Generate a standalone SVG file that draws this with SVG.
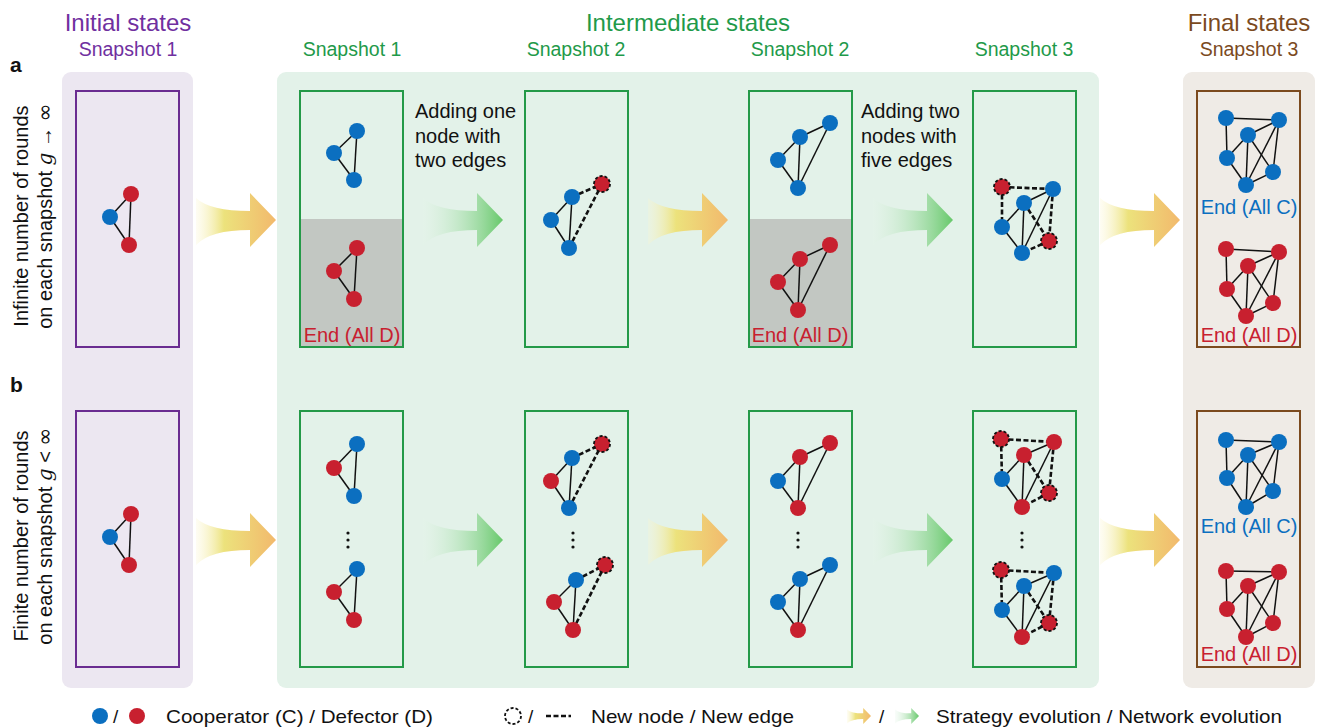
<svg xmlns="http://www.w3.org/2000/svg" xmlns:xlink="http://www.w3.org/1999/xlink" width="1326" height="728" viewBox="0 0 1326 728">
<style>
text{font-family:"Liberation Sans",Arial,sans-serif}
.e{stroke:#111;stroke-width:1.5}
.d{stroke:#111;stroke-width:2.6;stroke-dasharray:5 2.5}
.c{fill:#0b6fc0}
.r{fill:#c8202f}
.n{fill:#c8202f;stroke:#111;stroke-width:1.8;stroke-dasharray:3 2}
.dot{fill:#111}
.pbox{fill:none;stroke:#6a2c91;stroke-width:2}
.gbox{fill:none;stroke:#249a48;stroke-width:2}
.bbox{fill:none;stroke:#7b4a1e;stroke-width:2}
.ttl{font-size:24px;text-anchor:middle}
.snap{font-size:19.5px;text-anchor:middle}
.lab{font-size:20px;fill:#111}
.endD{font-size:20px;fill:#c8202f;text-anchor:middle}
.endC{font-size:20px;fill:#0b6fc0;text-anchor:middle}
.side{font-size:20px;fill:#111;text-anchor:middle}
.leg{font-size:19px;fill:#111}
.inf{font-family:"DejaVu Sans",sans-serif;font-size:22px}
</style>
<defs>
<linearGradient id="gy" x1="0" y1="0" x2="1" y2="0">
<stop offset="0" stop-color="#fbf6d0" stop-opacity="0.25"/>
<stop offset="0.35" stop-color="#ece27c"/>
<stop offset="1" stop-color="#f2b96c"/>
</linearGradient>
<linearGradient id="gg" x1="0" y1="0" x2="1" y2="0">
<stop offset="0" stop-color="#e6f5ea" stop-opacity="0.25"/>
<stop offset="1" stop-color="#66c86a"/>
</linearGradient>
<path id="arr" d="M-80,-22 Q-66,-9 -26,-9 L-26,-27 L0,0 L-26,27 L-26,10 Q-66,10 -80,25 Z"/>
</defs>

<!-- panels -->
<g id="panel-initial">
<rect x="62" y="72" width="131" height="616" rx="9" fill="#ece7f1"/>
<text class="ttl" x="128" y="31" fill="#7030a0">Initial states</text>
<text class="snap" x="128" y="56" fill="#7030a0">Snapshot 1</text>
</g>
<g id="panel-intermediate">
<rect x="277" y="72" width="822" height="616" rx="9" fill="#e3f2e9"/>
<text class="ttl" x="688" y="31" fill="#1f9a4a">Intermediate states</text>
<text class="snap" x="352" y="56" fill="#1f9a4a">Snapshot 1</text>
<text class="snap" x="576" y="56" fill="#1f9a4a">Snapshot 2</text>
<text class="snap" x="800" y="56" fill="#1f9a4a">Snapshot 2</text>
<text class="snap" x="1024" y="56" fill="#1f9a4a">Snapshot 3</text>
</g>
<g id="panel-final">
<rect x="1183" y="72" width="132" height="616" rx="9" fill="#efebe6"/>
<text class="ttl" x="1249" y="31" fill="#7b4a1e">Final states</text>
<text class="snap" x="1249" y="56" fill="#7b4a1e">Snapshot 3</text>
</g>

<!-- side labels -->
<g id="labels">
<text x="10" y="72" font-size="21" font-weight="bold" fill="#111">a</text>
<text x="10" y="392" font-size="21" font-weight="bold" fill="#111">b</text>
<text class="side" transform="translate(28,216) rotate(-90)">Infinite number of rounds</text>
<text class="side" transform="translate(52,216) rotate(-90)">on each snapshot <tspan font-family="DejaVu Serif,serif" font-style="italic">g</tspan> → <tspan class="inf">∞</tspan></text>
<text class="side" transform="translate(28,536) rotate(-90)">Finite number of rounds</text>
<text class="side" transform="translate(52,536) rotate(-90)">on each snapshot <tspan font-family="DejaVu Serif,serif" font-style="italic">g</tspan> &lt; <tspan class="inf">∞</tspan></text>
</g>

<!-- Row a -->
<g id="a-initial">
<rect class="pbox" x="76" y="91" width="103" height="256"/>
<line class="e" x1="110" y1="217" x2="131" y2="194"/><line class="e" x1="110" y1="217" x2="129" y2="245"/><line class="e" x1="131" y1="194" x2="129" y2="245"/>
<circle class="c" cx="110" cy="217" r="8"/><circle class="r" cx="131" cy="194" r="8"/><circle class="r" cx="129" cy="245" r="8"/>
</g>
<g id="a-snap1">
<rect x="300" y="219" width="103" height="128" fill="#c2c7c2"/>
<rect class="gbox" x="300" y="91" width="103" height="256"/>
<line class="e" x1="357" y1="131" x2="334" y2="153"/><line class="e" x1="334" y1="153" x2="354" y2="180"/><line class="e" x1="357" y1="131" x2="354" y2="180"/>
<circle class="c" cx="357" cy="131" r="8"/><circle class="c" cx="334" cy="153" r="8"/><circle class="c" cx="354" cy="180" r="8"/>
<line class="e" x1="357" y1="248" x2="334" y2="271"/><line class="e" x1="334" y1="271" x2="354" y2="299"/><line class="e" x1="357" y1="248" x2="354" y2="299"/>
<circle class="r" cx="357" cy="248" r="8"/><circle class="r" cx="334" cy="271" r="8"/><circle class="r" cx="354" cy="299" r="8"/>
<text class="endD" x="352" y="342">End (All D)</text>
</g>
<g id="a-text1">
<text class="lab" x="415" y="118">Adding one</text>
<text class="lab" x="415" y="143">node with</text>
<text class="lab" x="415" y="167">two edges</text>
</g>
<g id="a-snap2">
<rect class="gbox" x="525" y="91" width="103" height="256"/>
<line class="e" x1="572" y1="197" x2="551" y2="220"/><line class="e" x1="551" y1="220" x2="569" y2="248"/><line class="e" x1="572" y1="197" x2="569" y2="248"/>
<line class="d" x1="572" y1="197" x2="602" y2="184"/><line class="d" x1="569" y1="248" x2="602" y2="184"/>
<circle class="c" cx="572" cy="197" r="8"/><circle class="c" cx="551" cy="220" r="8"/><circle class="c" cx="569" cy="248" r="8"/><circle class="n" cx="602" cy="184" r="8"/>
</g>
<g id="a-snap2b">
<rect x="749" y="219" width="103" height="128" fill="#c2c7c2"/>
<rect class="gbox" x="749" y="91" width="103" height="256"/>
<line class="e" x1="830" y1="123" x2="800" y2="137"/><line class="e" x1="800" y1="137" x2="778" y2="160"/><line class="e" x1="778" y1="160" x2="798" y2="188"/><line class="e" x1="800" y1="137" x2="798" y2="188"/><line class="e" x1="830" y1="123" x2="798" y2="188"/>
<circle class="c" cx="830" cy="123" r="8"/><circle class="c" cx="800" cy="137" r="8"/><circle class="c" cx="778" cy="160" r="8"/><circle class="c" cx="798" cy="188" r="8"/>
<line class="e" x1="830" y1="245" x2="800" y2="259"/><line class="e" x1="800" y1="259" x2="778" y2="282"/><line class="e" x1="778" y1="282" x2="798" y2="310"/><line class="e" x1="800" y1="259" x2="798" y2="310"/><line class="e" x1="830" y1="245" x2="798" y2="310"/>
<circle class="r" cx="830" cy="245" r="8"/><circle class="r" cx="800" cy="259" r="8"/><circle class="r" cx="778" cy="282" r="8"/><circle class="r" cx="798" cy="310" r="8"/>
<text class="endD" x="800" y="342">End (All D)</text>
</g>
<g id="a-text2">
<text class="lab" x="861" y="118">Adding two</text>
<text class="lab" x="861" y="143">nodes with</text>
<text class="lab" x="861" y="167">five edges</text>
</g>
<g id="a-snap3">
<rect class="gbox" x="973" y="91" width="103" height="256"/>
<line class="e" x1="1053" y1="189" x2="1024" y2="203"/><line class="e" x1="1024" y1="203" x2="1002" y2="227"/><line class="e" x1="1002" y1="227" x2="1022" y2="253"/><line class="e" x1="1024" y1="203" x2="1022" y2="253"/><line class="e" x1="1053" y1="189" x2="1022" y2="253"/>
<line class="d" x1="1002" y1="187" x2="1053" y2="189"/><line class="d" x1="1002" y1="187" x2="1002" y2="227"/><line class="d" x1="1053" y1="189" x2="1049" y2="241"/><line class="d" x1="1049" y1="241" x2="1022" y2="253"/><line class="d" x1="1024" y1="203" x2="1049" y2="241"/>
<circle class="n" cx="1002" cy="187" r="8"/><circle class="c" cx="1053" cy="189" r="8"/><circle class="c" cx="1024" cy="203" r="8"/><circle class="c" cx="1002" cy="227" r="8"/><circle class="n" cx="1049" cy="241" r="8"/><circle class="c" cx="1022" cy="253" r="8"/>
</g>
<g id="a-final">
<rect class="bbox" x="1197" y="91" width="103" height="256"/>
<g class="e">
<line x1="1226" y1="118" x2="1279" y2="120"/><line x1="1226" y1="118" x2="1227" y2="158"/><line x1="1279" y1="120" x2="1248" y2="135"/><line x1="1248" y1="135" x2="1227" y2="158"/><line x1="1227" y1="158" x2="1246" y2="185"/><line x1="1248" y1="135" x2="1246" y2="185"/><line x1="1279" y1="120" x2="1246" y2="185"/><line x1="1248" y1="135" x2="1273" y2="172"/><line x1="1279" y1="120" x2="1273" y2="172"/><line x1="1273" y1="172" x2="1246" y2="185"/>
</g>
<circle class="c" cx="1226" cy="118" r="8"/><circle class="c" cx="1279" cy="120" r="8"/><circle class="c" cx="1248" cy="135" r="8"/><circle class="c" cx="1227" cy="158" r="8"/><circle class="c" cx="1273" cy="172" r="8"/><circle class="c" cx="1246" cy="185" r="8"/>
<text class="endC" x="1249" y="214">End (All C)</text>
<g class="e">
<line x1="1226" y1="249" x2="1279" y2="252"/><line x1="1226" y1="249" x2="1227" y2="289"/><line x1="1279" y1="252" x2="1248" y2="266"/><line x1="1248" y1="266" x2="1227" y2="289"/><line x1="1227" y1="289" x2="1246" y2="316"/><line x1="1248" y1="266" x2="1246" y2="316"/><line x1="1279" y1="252" x2="1246" y2="316"/><line x1="1248" y1="266" x2="1273" y2="303"/><line x1="1279" y1="252" x2="1273" y2="303"/><line x1="1273" y1="303" x2="1246" y2="316"/>
</g>
<circle class="r" cx="1226" cy="249" r="8"/><circle class="r" cx="1279" cy="252" r="8"/><circle class="r" cx="1248" cy="266" r="8"/><circle class="r" cx="1227" cy="289" r="8"/><circle class="r" cx="1273" cy="303" r="8"/><circle class="r" cx="1246" cy="316" r="8"/>
<text class="endD" x="1249" y="342">End (All D)</text>
</g>

<!-- Row b -->
<g id="b-initial">
<rect class="pbox" x="76" y="411" width="103" height="256"/>
<line class="e" x1="110" y1="537" x2="131" y2="514"/><line class="e" x1="110" y1="537" x2="129" y2="565"/><line class="e" x1="131" y1="514" x2="129" y2="565"/>
<circle class="c" cx="110" cy="537" r="8"/><circle class="r" cx="131" cy="514" r="8"/><circle class="r" cx="129" cy="565" r="8"/>
</g>
<g id="b-snap1">
<rect class="gbox" x="300" y="411" width="103" height="256"/>
<line class="e" x1="357" y1="444" x2="334" y2="468"/><line class="e" x1="334" y1="468" x2="354" y2="496"/><line class="e" x1="357" y1="444" x2="354" y2="496"/>
<circle class="c" cx="357" cy="444" r="8"/><circle class="r" cx="334" cy="468" r="8"/><circle class="c" cx="354" cy="496" r="8"/>
<circle class="dot" cx="348" cy="533" r="1.6"/><circle class="dot" cx="348" cy="540" r="1.6"/><circle class="dot" cx="348" cy="547" r="1.6"/>
<line class="e" x1="357" y1="569" x2="334" y2="592"/><line class="e" x1="334" y1="592" x2="354" y2="620"/><line class="e" x1="357" y1="569" x2="354" y2="620"/>
<circle class="c" cx="357" cy="569" r="8"/><circle class="r" cx="334" cy="592" r="8"/><circle class="r" cx="354" cy="620" r="8"/>
</g>
<g id="b-snap2">
<rect class="gbox" x="525" y="411" width="103" height="256"/>
<line class="e" x1="572" y1="458" x2="551" y2="481"/><line class="e" x1="551" y1="481" x2="569" y2="508"/><line class="e" x1="572" y1="458" x2="569" y2="508"/>
<line class="d" x1="572" y1="458" x2="602" y2="444"/><line class="d" x1="569" y1="508" x2="602" y2="444"/>
<circle class="c" cx="572" cy="458" r="8"/><circle class="r" cx="551" cy="481" r="8"/><circle class="c" cx="569" cy="508" r="8"/><circle class="n" cx="602" cy="444" r="8"/>
<circle class="dot" cx="573" cy="533" r="1.6"/><circle class="dot" cx="573" cy="540" r="1.6"/><circle class="dot" cx="573" cy="547" r="1.6"/>
<line class="e" x1="576" y1="580" x2="554" y2="602"/><line class="e" x1="554" y1="602" x2="573" y2="630"/><line class="e" x1="576" y1="580" x2="573" y2="630"/>
<line class="d" x1="576" y1="580" x2="605" y2="565"/><line class="d" x1="573" y1="630" x2="605" y2="565"/>
<circle class="c" cx="576" cy="580" r="8"/><circle class="r" cx="554" cy="602" r="8"/><circle class="r" cx="573" cy="630" r="8"/><circle class="n" cx="605" cy="565" r="8"/>
</g>
<g id="b-snap2b">
<rect class="gbox" x="749" y="411" width="103" height="256"/>
<line class="e" x1="830" y1="443" x2="800" y2="457"/><line class="e" x1="800" y1="457" x2="778" y2="481"/><line class="e" x1="778" y1="481" x2="798" y2="508"/><line class="e" x1="800" y1="457" x2="798" y2="508"/><line class="e" x1="830" y1="443" x2="798" y2="508"/>
<circle class="r" cx="830" cy="443" r="8"/><circle class="r" cx="800" cy="457" r="8"/><circle class="c" cx="778" cy="481" r="8"/><circle class="r" cx="798" cy="508" r="8"/>
<circle class="dot" cx="798" cy="533" r="1.6"/><circle class="dot" cx="798" cy="540" r="1.6"/><circle class="dot" cx="798" cy="547" r="1.6"/>
<line class="e" x1="830" y1="565" x2="800" y2="579"/><line class="e" x1="800" y1="579" x2="778" y2="602"/><line class="e" x1="778" y1="602" x2="798" y2="630"/><line class="e" x1="800" y1="579" x2="798" y2="630"/><line class="e" x1="830" y1="565" x2="798" y2="630"/>
<circle class="c" cx="830" cy="565" r="8"/><circle class="c" cx="800" cy="579" r="8"/><circle class="c" cx="778" cy="602" r="8"/><circle class="r" cx="798" cy="630" r="8"/>
</g>
<g id="b-snap3">
<rect class="gbox" x="973" y="411" width="103" height="256"/>
<line class="e" x1="1054" y1="442" x2="1024" y2="455"/><line class="e" x1="1024" y1="455" x2="1002" y2="479"/><line class="e" x1="1002" y1="479" x2="1022" y2="507"/><line class="e" x1="1024" y1="455" x2="1022" y2="507"/><line class="e" x1="1054" y1="442" x2="1022" y2="507"/>
<line class="d" x1="1001" y1="439" x2="1054" y2="442"/><line class="d" x1="1001" y1="439" x2="1002" y2="479"/><line class="d" x1="1054" y1="442" x2="1049" y2="493"/><line class="d" x1="1049" y1="493" x2="1022" y2="507"/><line class="d" x1="1024" y1="455" x2="1049" y2="493"/>
<circle class="n" cx="1001" cy="439" r="8"/><circle class="r" cx="1054" cy="442" r="8"/><circle class="r" cx="1024" cy="455" r="8"/><circle class="c" cx="1002" cy="479" r="8"/><circle class="n" cx="1049" cy="493" r="8"/><circle class="r" cx="1022" cy="507" r="8"/>
<circle class="dot" cx="1022" cy="533" r="1.6"/><circle class="dot" cx="1022" cy="540" r="1.6"/><circle class="dot" cx="1022" cy="547" r="1.6"/>
<line class="e" x1="1054" y1="573" x2="1024" y2="586"/><line class="e" x1="1024" y1="586" x2="1002" y2="610"/><line class="e" x1="1002" y1="610" x2="1022" y2="637"/><line class="e" x1="1024" y1="586" x2="1022" y2="637"/><line class="e" x1="1054" y1="573" x2="1022" y2="637"/>
<line class="d" x1="1001" y1="570" x2="1054" y2="573"/><line class="d" x1="1001" y1="570" x2="1002" y2="610"/><line class="d" x1="1054" y1="573" x2="1049" y2="623"/><line class="d" x1="1049" y1="623" x2="1022" y2="637"/><line class="d" x1="1024" y1="586" x2="1049" y2="623"/>
<circle class="n" cx="1001" cy="570" r="8"/><circle class="c" cx="1054" cy="573" r="8"/><circle class="c" cx="1024" cy="586" r="8"/><circle class="c" cx="1002" cy="610" r="8"/><circle class="n" cx="1049" cy="623" r="8"/><circle class="r" cx="1022" cy="637" r="8"/>
</g>
<g id="b-final">
<rect class="bbox" x="1197" y="411" width="103" height="256"/>
<g class="e">
<line x1="1226" y1="440" x2="1279" y2="442"/><line x1="1226" y1="440" x2="1227" y2="478"/><line x1="1279" y1="442" x2="1248" y2="455"/><line x1="1248" y1="455" x2="1227" y2="478"/><line x1="1227" y1="478" x2="1246" y2="507"/><line x1="1248" y1="455" x2="1246" y2="507"/><line x1="1279" y1="442" x2="1246" y2="507"/><line x1="1248" y1="455" x2="1273" y2="491"/><line x1="1279" y1="442" x2="1273" y2="491"/><line x1="1273" y1="491" x2="1246" y2="507"/>
</g>
<circle class="c" cx="1226" cy="440" r="8"/><circle class="c" cx="1279" cy="442" r="8"/><circle class="c" cx="1248" cy="455" r="8"/><circle class="c" cx="1227" cy="478" r="8"/><circle class="c" cx="1273" cy="491" r="8"/><circle class="c" cx="1246" cy="507" r="8"/>
<text class="endC" x="1249" y="533">End (All C)</text>
<g class="e">
<line x1="1226" y1="571" x2="1279" y2="572"/><line x1="1226" y1="571" x2="1227" y2="609"/><line x1="1279" y1="572" x2="1248" y2="586"/><line x1="1248" y1="586" x2="1227" y2="609"/><line x1="1227" y1="609" x2="1246" y2="637"/><line x1="1248" y1="586" x2="1246" y2="637"/><line x1="1279" y1="572" x2="1246" y2="637"/><line x1="1248" y1="586" x2="1273" y2="623"/><line x1="1279" y1="572" x2="1273" y2="623"/><line x1="1273" y1="623" x2="1246" y2="637"/>
</g>
<circle class="r" cx="1226" cy="571" r="8"/><circle class="r" cx="1279" cy="572" r="8"/><circle class="r" cx="1248" cy="586" r="8"/><circle class="r" cx="1227" cy="609" r="8"/><circle class="r" cx="1273" cy="623" r="8"/><circle class="r" cx="1246" cy="637" r="8"/>
<text class="endD" x="1249" y="661">End (All D)</text>
</g>

<!-- connectors -->
<g id="connectors">
<use xlink:href="#arr" fill="url(#gy)" transform="translate(276,220)"/>
<use xlink:href="#arr" fill="url(#gg)" transform="translate(503,220)"/>
<use xlink:href="#arr" fill="url(#gy)" transform="translate(728,220)"/>
<use xlink:href="#arr" fill="url(#gg)" transform="translate(953,220)"/>
<use xlink:href="#arr" fill="url(#gy)" transform="translate(1180,220)"/>
<use xlink:href="#arr" fill="url(#gy)" transform="translate(276,540)"/>
<use xlink:href="#arr" fill="url(#gg)" transform="translate(503,540)"/>
<use xlink:href="#arr" fill="url(#gy)" transform="translate(728,540)"/>
<use xlink:href="#arr" fill="url(#gg)" transform="translate(953,540)"/>
<use xlink:href="#arr" fill="url(#gy)" transform="translate(1180,540)"/>
</g>

<!-- legend -->
<g id="legend">
<circle class="c" cx="100" cy="716" r="8"/>
<text class="leg" x="113" y="723">/</text>
<circle class="r" cx="137" cy="716" r="8"/>
<text class="leg" x="166" y="723" textLength="267" lengthAdjust="spacingAndGlyphs">Cooperator (C) / Defector (D)</text>
<circle cx="513" cy="716" r="8" fill="none" stroke="#111" stroke-width="1.8" stroke-dasharray="3 2"/>
<text class="leg" x="528" y="723">/</text>
<line class="d" x1="546" y1="716" x2="571" y2="716"/>
<text class="leg" x="591" y="723" textLength="203" lengthAdjust="spacingAndGlyphs">New node / New edge</text>
<use xlink:href="#arr" fill="url(#gy)" transform="translate(871,716) scale(0.3)"/>
<text class="leg" x="879" y="723">/</text>
<use xlink:href="#arr" fill="url(#gg)" transform="translate(919,716) scale(0.3)"/>
<text class="leg" x="936" y="723" textLength="346" lengthAdjust="spacingAndGlyphs">Strategy evolution / Network evolution</text>
</g>
</svg>
